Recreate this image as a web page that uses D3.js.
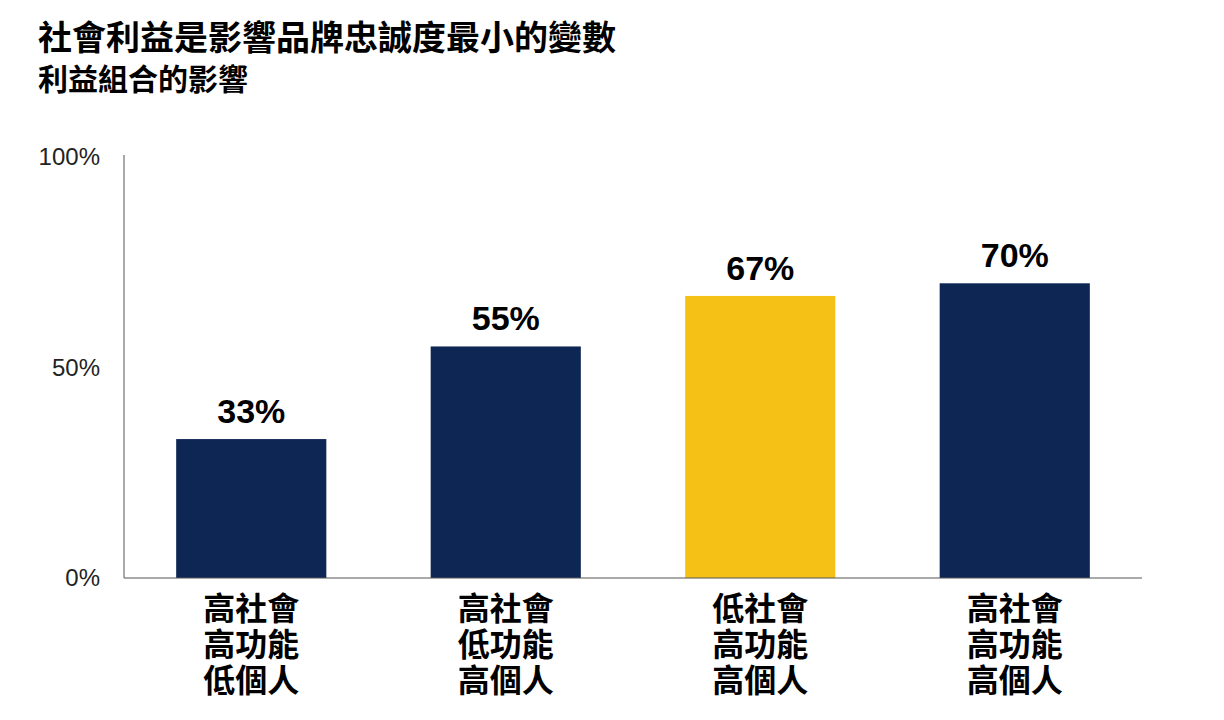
<!DOCTYPE html>
<html><head><meta charset="utf-8">
<script src="https://cdn.jsdelivr.net/npm/d3@7"></script>
<style>body{margin:0;background:#fff}text{font-family:"Liberation Sans","Noto Sans CJK TC",sans-serif}</style>
</head><body><svg id="c" width="1224" height="720"></svg>
<script>
// chart data
const categories = [["高社會","高功能","低個人"],["高社會","低功能","高個人"],["低社會","高功能","高個人"],["高社會","高功能","高個人"]];
const values = [33, 55, 67, 70];
const highlight = [false, false, true, false];
const yTicks = [0, 50, 100];

const svg = d3.select("#c");
const margin = {left: 124, right: 82, top: 157, bottom: 142};
const W = 1224, H = 720;
const x = d3.scaleBand().domain(d3.range(values.length)).range([margin.left, W - margin.right])
  .paddingInner(0.41).paddingOuter(0.205);
const y = d3.scaleLinear().domain([0, 100]).range([H - margin.bottom, margin.top]);

svg.append("text").attr("x", 38).attr("y", 50).attr("font-size", 34).attr("font-weight", "bold").text("社會利益是影響品牌忠誠度最小的變數");
svg.append("text").attr("x", 38).attr("y", 90).attr("font-size", 30).attr("font-weight", "bold").text("利益組合的影響");

// bars
svg.selectAll("rect.bar").data(values).join("rect")
  .attr("x", (d, i) => x(i)).attr("width", x.bandwidth())
  .attr("y", d => y(d)).attr("height", d => y(0) - y(d))
  .attr("fill", (d, i) => highlight[i] ? "#f5c116" : "#0e2654");

svg.selectAll("text.val").data(values).join("text")
  .attr("x", (d, i) => x(i) + x.bandwidth() / 2).attr("y", d => y(d) - 16)
  .attr("text-anchor", "middle").attr("font-size", 34).attr("font-weight", "bold")
  .text(d => d + "%");

// axes
const yAxis = svg.append("g").attr("transform", `translate(${margin.left},0)`)
  .call(d3.axisLeft(y).tickValues(yTicks).tickSize(0).tickPadding(24).tickFormat(d => d + "%"));
yAxis.select(".domain").attr("stroke", "#555").attr("d", `M0,${y(100) - 2}V${y(0)}`);
yAxis.selectAll("text").attr("font-size", 24).attr("fill", "#222");

svg.append("line").attr("x1", margin.left).attr("x2", W - margin.right)
  .attr("y1", y(0)).attr("y2", y(0)).attr("stroke", "#555");

const cat = svg.selectAll("g.cat").data(categories).join("g")
  .attr("transform", (d, i) => `translate(${x(i) + x.bandwidth() / 2},${y(0)})`);
cat.selectAll("text").data(d => d).join("text")
  .attr("y", (d, j) => 42 + j * 36).attr("text-anchor", "middle")
  .attr("font-size", 32).attr("font-weight", "bold").text(d => d);
</script></body></html>
